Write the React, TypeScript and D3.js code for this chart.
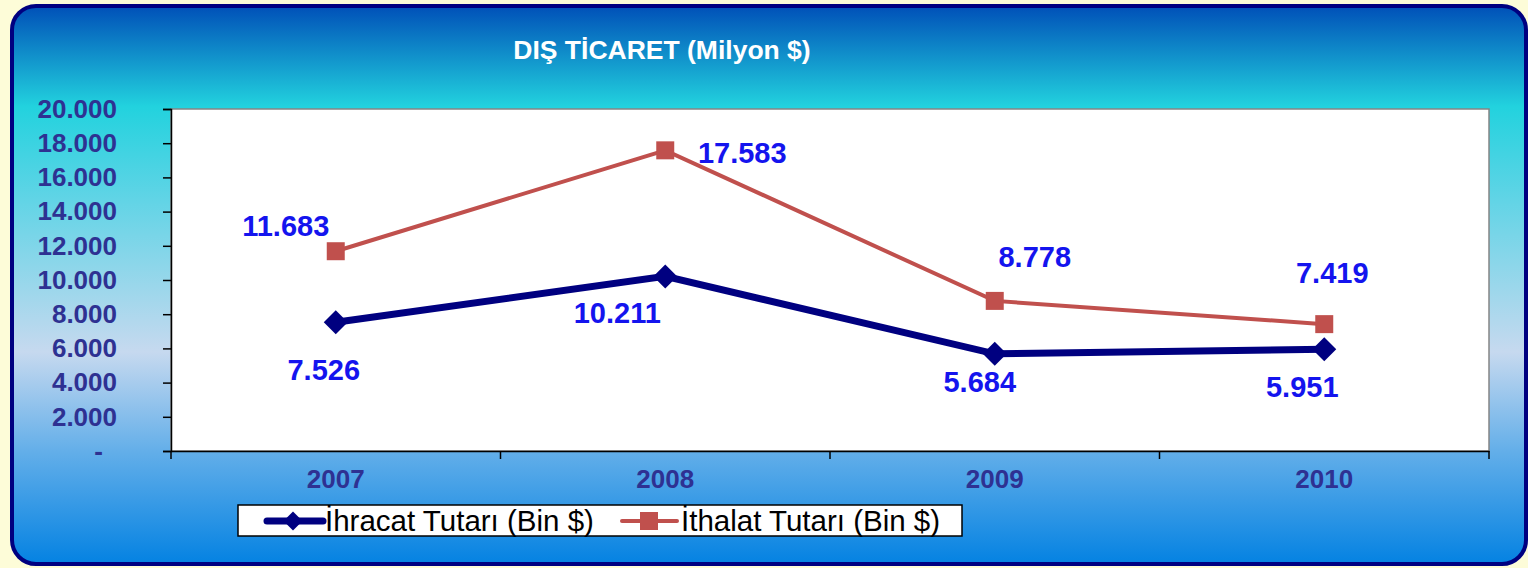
import React, { useEffect, useRef } from "react"
import * as d3 from "d3"

const years = ["2007", "2008", "2009", "2010"]
const exportValues = [7526, 10211, 5684, 5951]
const importValues = [11683, 17583, 8778, 7419]
const yTicks = [0, 2000, 4000, 6000, 8000, 10000, 12000, 14000, 16000, 18000, 20000]
const seriesNames = ["İhracat Tutarı (Bin $)", "İthalat Tutarı (Bin $)"]
const title = "DIŞ TİCARET (Milyon $)"

const fmt = (v: number) => (v === 0 ? "-" : d3.format(",")(v).replace(/,/g, "."))

const App = () => {
	const ref = useRef<SVGSVGElement>(null)

	useEffect(() => {
		document.body.style.margin = "0"
		const width = 1528
		const height = 568
		const marginLeft = 171
		const marginRight = 39
		const marginTop = 109
		const marginBottom = 117

		const svg = d3.select(ref.current).attr("width", width).attr("height", height)
		svg.selectAll("*").remove()

		// background
		svg.append("rect").attr("width", width).attr("height", height).attr("fill", "#fdfcd8")

		const defs = svg.append("defs")
		const grad = defs
			.append("linearGradient")
			.attr("id", "panelGrad")
			.attr("x1", 0)
			.attr("y1", 0)
			.attr("x2", 0)
			.attr("y2", 1)
		grad.append("stop").attr("offset", "0%").attr("stop-color", "#0050b8")
		grad.append("stop").attr("offset", "18%").attr("stop-color", "#22d2de")
		grad.append("stop").attr("offset", "35%").attr("stop-color", "#62d4e6")
		grad.append("stop").attr("offset", "62%").attr("stop-color", "#c6d9ef")
		grad.append("stop").attr("offset", "80%").attr("stop-color", "#62aee9")
		grad.append("stop").attr("offset", "100%").attr("stop-color", "#0482e2")

		svg
			.append("rect")
			.attr("x", 12)
			.attr("y", 6)
			.attr("width", width - 14)
			.attr("height", height - 10)
			.attr("rx", 24)
			.attr("fill", "url(#panelGrad)")
			.attr("stroke", "#000080")
			.attr("stroke-width", 4)

		// title
		svg
			.append("text")
			.attr("x", 662)
			.attr("y", 59)
			.attr("text-anchor", "middle")
			.style("font-family", "Liberation Sans, Arial, sans-serif")
			.style("font-weight", "bold")
			.style("font-size", "26.5px")
			.attr("fill", "#ffffff")
			.text(title)

		const x = d3
			.scaleBand()
			.domain(years)
			.range([marginLeft, width - marginRight])
		const y = d3
			.scaleLinear()
			.domain([0, 20000])
			.range([height - marginBottom, marginTop])

		// plot area
		svg
			.append("rect")
			.attr("x", marginLeft)
			.attr("y", marginTop)
			.attr("width", width - marginRight - marginLeft)
			.attr("height", height - marginBottom - marginTop)
			.attr("fill", "#ffffff")
			.attr("stroke", "#858585")
			.attr("stroke-width", 1.5)

		// y axis
		const yAxis = d3
			.axisLeft(y)
			.tickValues(yTicks)
			.tickSize(8)
			.tickPadding(46)
			.tickFormat(d => fmt(d as number))
		const yg = svg
			.append("g")
			.attr("transform", `translate(${marginLeft},0)`)
			.call(yAxis)
		yg.select(".domain").attr("stroke", "#000").attr("stroke-width", 1.5)
		yg.selectAll(".tick line").attr("stroke", "#000").attr("stroke-width", 1.5)
		yg.selectAll(".tick text")
			.style("font-family", "Liberation Sans, Arial, sans-serif")
			.style("font-weight", "bold")
			.style("font-size", "26px")
			.attr("fill", "#2e3192")
		yg.selectAll(".tick text")
			.filter(d => d === 0)
			.attr("dx", -14)

		// x axis
		const xAxis = d3.axisBottom(x).tickSize(0).tickPadding(19)
		const xg = svg
			.append("g")
			.attr("transform", `translate(0,${height - marginBottom})`)
			.call(xAxis)
		xg.select(".domain").attr("stroke", "#000").attr("stroke-width", 1.5)
		xg.selectAll(".tick text")
			.style("font-family", "Liberation Sans, Arial, sans-serif")
			.style("font-weight", "bold")
			.style("font-size", "26px")
			.attr("fill", "#2e3192")
		const bounds = years.map(d => x(d) as number).concat([width - marginRight])
		xg.selectAll(".bound")
			.data(bounds)
			.join("line")
			.attr("x1", d => d)
			.attr("x2", d => d)
			.attr("y1", 0)
			.attr("y2", 8)
			.attr("stroke", "#000")
			.attr("stroke-width", 1.5)

		const cx = (i: number) => (x(years[i]) as number) + x.bandwidth() / 2
		const line = d3
			.line<number>()
			.x((_, i) => cx(i))
			.y(d => y(d))

		// import series
		svg
			.append("path")
			.attr("d", line(importValues))
			.attr("fill", "none")
			.attr("stroke", "#c0504d")
			.attr("stroke-width", 4)
		svg
			.selectAll(".imp")
			.data(importValues)
			.join("path")
			.attr("d", d3.symbol(d3.symbolSquare, 324)())
			.attr("transform", (d, i) => `translate(${cx(i)},${y(d)})`)
			.attr("fill", "#c0504d")

		// export series
		svg
			.append("path")
			.attr("d", line(exportValues))
			.attr("fill", "none")
			.attr("stroke", "#000080")
			.attr("stroke-width", 7)
		svg
			.selectAll(".exp")
			.data(exportValues)
			.join("path")
			.attr("d", d3.symbol(d3.symbolDiamond2, 367)())
			.attr("transform", (d, i) => `translate(${cx(i)},${y(d)})`)
			.attr("fill", "#000080")

		// data labels
		const impOffsets = [
			[-50, -15],
			[77, 13],
			[40, -34],
			[8, -41],
		]
		const expOffsets = [
			[-12, 58],
			[-48, 47],
			[-15, 38],
			[-22, 48],
		]
		const labelStyle = (sel: any) =>
			sel
				.attr("text-anchor", "middle")
				.style("font-family", "Liberation Sans, Arial, sans-serif")
				.style("font-weight", "bold")
				.style("font-size", "29px")
				.attr("fill", "#1414ee")
		svg
			.selectAll(".impLabel")
			.data(importValues)
			.join("text")
			.attr("x", (d, i) => cx(i) + impOffsets[i][0])
			.attr("y", (d, i) => y(d) + impOffsets[i][1])
			.call(labelStyle)
			.text(d => fmt(d))
		svg
			.selectAll(".expLabel")
			.data(exportValues)
			.join("text")
			.attr("x", (d, i) => cx(i) + expOffsets[i][0])
			.attr("y", (d, i) => y(d) + expOffsets[i][1])
			.call(labelStyle)
			.text(d => fmt(d))

		// legend
		const legend = svg.append("g").attr("transform", "translate(238,505)")
		legend
			.append("rect")
			.attr("width", 724)
			.attr("height", 31)
			.attr("fill", "#fff")
			.attr("stroke", "#000")
			.attr("stroke-width", 1.5)
		legend
			.append("line")
			.attr("x1", 29)
			.attr("x2", 85)
			.attr("y1", 16)
			.attr("y2", 16)
			.attr("stroke", "#000080")
			.attr("stroke-width", 7)
			.attr("stroke-linecap", "round")
		legend
			.append("path")
			.attr("d", d3.symbol(d3.symbolDiamond2, 230)())
			.attr("transform", "translate(55,16)")
			.attr("fill", "#000080")
		legend
			.append("text")
			.attr("x", 87)
			.attr("y", 26)
			.style("font-family", "Liberation Sans, Arial, sans-serif")
			.style("font-size", "29.5px")
			.attr("fill", "#000")
			.text(seriesNames[0])
		legend
			.append("line")
			.attr("x1", 384)
			.attr("x2", 439)
			.attr("y1", 16)
			.attr("y2", 16)
			.attr("stroke", "#c0504d")
			.attr("stroke-width", 4)
			.attr("stroke-linecap", "round")
		legend
			.append("path")
			.attr("d", d3.symbol(d3.symbolSquare, 324)())
			.attr("transform", "translate(411,16)")
			.attr("fill", "#c0504d")
		legend
			.append("text")
			.attr("x", 443)
			.attr("y", 26)
			.style("font-family", "Liberation Sans, Arial, sans-serif")
			.style("font-size", "29.5px")
			.attr("fill", "#000")
			.text(seriesNames[1])
	}, [])

	return <svg ref={ref} style={{ display: "block" }}></svg>
}

export default App
